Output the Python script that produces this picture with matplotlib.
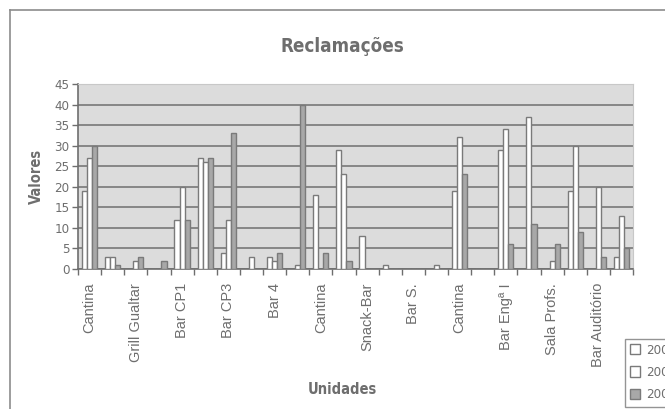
import matplotlib.pyplot as plt
from matplotlib.lines import Line2D
import numpy as np

# dados
unidades = ["Cantina", "", "Grill Gualtar", "", "Bar CP1", "", "Bar CP3", "",
            "Bar 4", "", "Cantina", "", "Snack-Bar", "", "Bar S.", "",
            "Cantina", "", "Bar Engª I", "", "Sala Profs.", "", "Bar Auditório", ""]
anos = ["2002", "2003", "2004"]
serie1 = [19, 3, 0, 0, 12, 27, 4, 0, 3, 0, 18, 29, 8, 1, 0, 0, 19, 0, 29, 0, 0, 19, 0, 3]
serie2 = [27, 3, 2, 0, 20, 26, 12, 3, 2, 1, 0, 23, 0, 0, 0, 1, 32, 0, 34, 37, 2, 30, 20, 13]
serie3 = [30, 1, 3, 2, 12, 27, 33, 0, 4, 40, 4, 2, 0, 0, 0, 0, 23, 0, 6, 11, 6, 9, 3, 5]

cinza = "#6e6e6e"
fig = plt.figure(figsize=(6.65, 4.09), dpi=100)
ax = fig.add_axes([78 / 665, 1 - 269 / 409, (633 - 78) / 665, (269 - 84) / 409])

x = np.arange(len(unidades))
w = 0.22
cores = ["white", "white", "#a8a8a8"]
for k, vals in enumerate([serie1, serie2, serie3]):
    ax.bar(x + (k - 1) * w, vals, w, color=cores[k], edgecolor="#7a7a7a",
           linewidth=1.0, label=anos[k], zorder=3)

ax.set_facecolor("#dcdcdc")
ax.set_ylim(0, 45)
ax.set_xlim(-0.5, len(unidades) - 0.5)
ax.set_yticks(range(0, 46, 5))
ax.yaxis.grid(True, color="#7f7f7f", linewidth=1.3, zorder=1)
ax.set_axisbelow(True)

# ticks nas fronteiras das categorias, rótulos em categorias pares
ax.set_xticks(np.arange(-0.5, len(unidades), 1))
ax.set_xticklabels([])
pares = [i for i in x if unidades[i]]
ax.set_xticks(pares, minor=True)
ax.set_xticklabels([unidades[i] for i in pares], minor=True, rotation=90,
                   fontsize=10.5, color=cinza, family="Liberation Sans")
ax.tick_params(axis="x", which="major", length=4, color=cinza, width=1)
ax.tick_params(axis="x", which="minor", length=0, pad=10)
ax.tick_params(axis="y", length=4, color=cinza, width=1, labelsize=9.5,
               labelcolor=cinza, pad=2)
for lab in ax.get_yticklabels():
    lab.set_family("DejaVu Sans")
    lab.set_stretch("condensed")

for s in ["top", "right"]:
    ax.spines[s].set_color("#c8c8c8")
for s in ["left", "bottom"]:
    ax.spines[s].set_color(cinza)
    ax.spines[s].set_linewidth(1.2)

fig.text(342 / 665, 1 - 46 / 409, "Reclamações", ha="center", va="center",
         fontsize=13.5, fontweight="bold", color=cinza, family="DejaVu Sans",
         fontstretch="condensed")
fig.text(36 / 665, 1 - 176 / 409, "Valores", ha="center", va="center", rotation=90,
         fontsize=10.5, fontweight="bold", color=cinza, family="DejaVu Sans",
         fontstretch="condensed")
fig.text(342 / 665, 1 - 390 / 409, "Unidades", ha="center", va="center",
         fontsize=10.5, fontweight="bold", color=cinza, family="DejaVu Sans",
         fontstretch="condensed")

leg = fig.legend(loc="upper left", bbox_to_anchor=(618 / 665, 1 - 332 / 409),
                 fancybox=False, edgecolor="#7a7a7a", fontsize=9.5,
                 handlelength=0.8, handleheight=0.8, handletextpad=0.4,
                 labelspacing=0.7, borderpad=0.4, labelcolor=cinza)
leg.get_frame().set_linewidth(1.0)
for t in leg.get_texts():
    t.set_stretch("condensed")

# moldura exterior do gráfico
fig.add_artist(Line2D([10 / 665, 10 / 665], [0, 1 - 10 / 409], color="#8c8c8c", lw=1.2))
fig.add_artist(Line2D([10 / 665, 1], [1 - 10 / 409, 1 - 10 / 409], color="#8c8c8c", lw=1.2))

fig.savefig("out.png", dpi=100)
